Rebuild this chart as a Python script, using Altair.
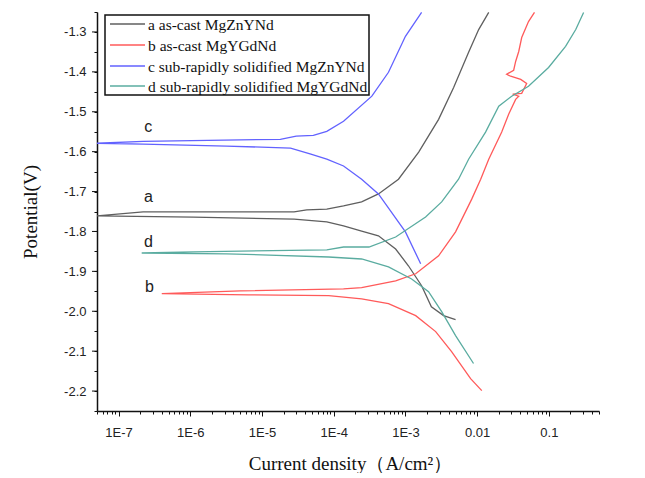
import altair as alt
import pandas as pd

# ---------------- data (current density in A/cm^2, potential in V) ----------------
series_names = ["a", "b", "c", "d"]
legend_labels = ["a as-cast MgZnYNd", "b as-cast MgYGdNd",
                 "c sub-rapidly solidified MgZnYNd", "d sub-rapidly solidified MgYGdNd"]
series_colors = ["#5f5f5f", "#ff5a5a", "#6262ff", "#5aaca0"]

a_current = [5.0e-3, 3.4e-3, 2.3e-3, 1.68e-3, 1.1e-3, 7.3e-4, 4.2e-4, 2.45e-4, 1.37e-4, 8.0e-5, 2.8e-5, 1.1e-6, 5.0e-8,
             2.2e-7, 2.8e-5, 4.2e-5, 8.0e-5, 1.37e-4, 2.45e-4, 4.2e-4, 8.0e-4, 1.53e-3, 2.9e-3, 4.7e-3, 7.6e-3, 1.05e-2, 1.45e-2]
a_potential = [-2.021, -2.011, -1.989, -1.936, -1.886, -1.844, -1.811, -1.799, -1.786, -1.776, -1.769, -1.764, -1.761,
               -1.751, -1.751, -1.746, -1.744, -1.736, -1.726, -1.706, -1.669, -1.601, -1.519, -1.439, -1.351, -1.294, -1.251]

b_current = [1.16e-2, 8.1e-3, 4.4e-3, 2.64e-3, 1.39e-3, 5.8e-4, 2.45e-4, 8.5e-5, 6.5e-6, 4.0e-7,
             5.0e-6, 1.37e-4, 2.45e-4, 7.3e-4, 1.39e-3, 2.9e-3, 5.0e-3, 8.4e-3, 1.12e-2, 1.45e-2,
             2.2e-2, 2.75e-2, 3.44e-2, 3.8e-2, 3.13e-2, 4.18e-2, 4.9e-2, 4.05e-2, 2.93e-2, 2.58e-2,
             3.23e-2, 3.44e-2, 3.8e-2, 4.18e-2, 5.2e-2, 6.3e-2]
b_potential = [-2.199, -2.169, -2.101, -2.051, -2.011, -1.981, -1.969, -1.961, -1.959, -1.956,
               -1.949, -1.944, -1.941, -1.924, -1.906, -1.861, -1.801, -1.719, -1.669, -1.619,
               -1.551, -1.506, -1.469, -1.461, -1.456, -1.454, -1.429, -1.419, -1.411, -1.406,
               -1.396, -1.374, -1.349, -1.314, -1.274, -1.251]

c_current = [1.63e-3, 1.0e-3, 4.2e-4, 2.45e-4, 1.37e-4, 8.0e-5, 4.8e-5, 2.5e-5, 3.2e-6, 2.2e-7, 5.0e-8,
             2.2e-7, 1.8e-5, 3.0e-5, 5.2e-5, 8.0e-5, 1.37e-4, 3.4e-4, 5.8e-4, 1.0e-3, 1.68e-3]
c_potential = [-1.881, -1.801, -1.706, -1.669, -1.636, -1.619, -1.606, -1.591, -1.586, -1.581, -1.579,
               -1.574, -1.569, -1.561, -1.559, -1.549, -1.524, -1.461, -1.401, -1.311, -1.251]

d_current = [8.9e-3, 5.0e-3, 3.2e-3, 2.1e-3, 1.22e-3, 5.8e-4, 2.45e-4, 8.5e-5, 3.2e-6, 2.1e-7,
             1.1e-6, 8.0e-5, 1.37e-4, 3.1e-4, 7.3e-4, 1.91e-3, 3.2e-3, 5.5e-3, 7.6e-3, 1.31e-2,
             2.0e-2, 3.03e-2, 5.2e-2, 9.9e-2, 0.171, 0.237, 0.305]
d_potential = [-2.131, -2.061, -2.001, -1.951, -1.919, -1.889, -1.869, -1.864, -1.856, -1.854,
               -1.851, -1.846, -1.839, -1.839, -1.814, -1.764, -1.726, -1.669, -1.619, -1.551,
               -1.486, -1.461, -1.436, -1.389, -1.336, -1.294, -1.251]

# curve tag labels
tag_text = ["c", "a", "d", "b"]
tag_current = [2.6e-7, 2.6e-7, 2.6e-7, 2.7e-7]
tag_potential = [-1.539, -1.714, -1.826, -1.939]

# axes
x_domain = [5e-8, 0.5]
y_domain = [-2.25, -1.25]
x_tick_values = sorted({m * 10.0 ** e for e in range(-8, 0) for m in range(1, 10)
                        if 4.99e-8 <= m * 10.0 ** e <= 0.5001})
y_major_values = [-2.2, -2.1, -2.0, -1.9, -1.8, -1.7, -1.6, -1.5, -1.4, -1.3]
y_major_labels = ["-2.2", "-2.1", "-2.0", "-1.9", "-1.8", "-1.7", "-1.6", "-1.5", "-1.4", "-1.3"]
y_tick_values = [-2.25, -2.2, -2.15, -2.1, -2.05, -2.0, -1.95, -1.9, -1.85, -1.8, -1.75, -1.7,
                 -1.65, -1.6, -1.55, -1.5, -1.45, -1.4, -1.35, -1.3, -1.25]

# ---------------- build ----------------
frames = []
for name, cur, pot in [("a", a_current, a_potential), ("b", b_current, b_potential),
                       ("c", c_current, c_potential), ("d", d_current, d_potential)]:
    frames.append(pd.DataFrame({"current": cur, "potential": pot, "series": name,
                                "idx": list(range(len(cur)))}))
curves_df = pd.concat(frames, ignore_index=True)
tags_df = pd.DataFrame({"current": tag_current, "potential": tag_potential, "tag": tag_text})
ymaj_df = pd.DataFrame({"potential": y_major_values, "lab": y_major_labels})

LOGE = "log(datum.value)/LN10"
x_major_test = f"abs({LOGE} - round({LOGE})) < 0.001"
x_label_expr = (f"{x_major_test} ? (round({LOGE}) == -1 ? '0.1' : round({LOGE}) == -2 ? '0.01' : "
                f"'1E' + round({LOGE})) : ''")
y_label_expr = ("abs(datum.value*10 - round(datum.value*10)) < 0.001 ? "
                "(abs(datum.value - round(datum.value)) < 0.001 ? round(datum.value) + '.0' : "
                "'' + round(datum.value*10)/10) : ''")

W, H = 502, 399

x_scale = alt.Scale(type="log", domain=x_domain, nice=False)
y_scale = alt.Scale(domain=y_domain, nice=False, zero=False)
x_axis = alt.Axis(values=x_tick_values, labelExpr=x_label_expr, labelOverlap=False,
                  tickSize={"condition": {"test": x_major_test, "value": 5}, "value": 3},
                  labelPadding=10, labelFontSize=13,
                  title="Current density（A/cm²）", titleX=W / 2 + 2, titleY=52,
                  titleAlign="center", titleBaseline="middle",
                  titleFont="Liberation Serif", titleFontSize=19)
y_axis = alt.Axis(values=y_tick_values, labelExpr=y_label_expr, labelOverlap=False,
                  tickSize=3, labelPadding=8, labelFontSize=13,
                  title="Potential(V)", titleX=-67, titleY=H / 2,
                  titleAngle=270, titleAlign="center", titleBaseline="middle",
                  titleFont="Liberation Serif", titleFontSize=19)

x_enc = alt.X("current:Q", scale=x_scale, axis=x_axis)
y_enc = alt.Y("potential:Q", scale=y_scale, axis=y_axis)

lines = alt.Chart(curves_df).mark_line(strokeWidth=1.3, clip=True).encode(
    x=x_enc, y=y_enc,
    color=alt.Color("series:N", scale=alt.Scale(domain=series_names, range=series_colors), legend=None),
    order=alt.Order("idx:Q"),
    detail="series:N",
)

tags = alt.Chart(tags_df).mark_text(font="Liberation Sans", fontSize=16, color="#222222",
                                    align="center", baseline="middle").encode(
    x=x_enc, y=y_enc, text="tag:N")

# longer major ticks on the potential axis
ymaj = alt.Chart(ymaj_df).mark_rule(color="#111111", strokeWidth=1, clip=False).encode(
    x=alt.value(-5), x2=alt.value(0), y=y_enc)

one = pd.DataFrame({"k": [0]})
box = alt.Chart(one).mark_rect(fill="white", stroke="#111111", strokeWidth=1.5).encode(
    x=alt.value(8), x2=alt.value(272), y=alt.value(3), y2=alt.value(83))

legend_layers = [box]
row_y = [12, 33, 54, 74]
for lab, col, yy in zip(legend_labels, series_colors, row_y):
    legend_layers.append(alt.Chart(one).mark_rule(color=col, strokeWidth=1.5).encode(
        x=alt.value(13), x2=alt.value(48), y=alt.value(yy)))
    legend_layers.append(alt.Chart(one).mark_text(font="Liberation Serif", fontSize=15.5, color="#111111",
                                                 align="left", baseline="middle").encode(
        x=alt.value(51), y=alt.value(yy + 1), text=alt.value(lab)))

chart = alt.layer(lines, tags, ymaj, *legend_layers).properties(
    width=W, height=H,
    padding={"left": 89, "top": 4, "right": 30, "bottom": 62},
    autosize=alt.AutoSizeParams(type="none"),
).configure_view(stroke=None).configure_axis(
    domainColor="#111111", domainWidth=1.5, tickColor="#111111", tickWidth=1,
    labelFont="Liberation Sans", labelColor="#222222", titleColor="#111111",
    titleFontWeight="normal", grid=False,
)

chart.save("out.html", embed_options={"renderer": "svg", "actions": False})
